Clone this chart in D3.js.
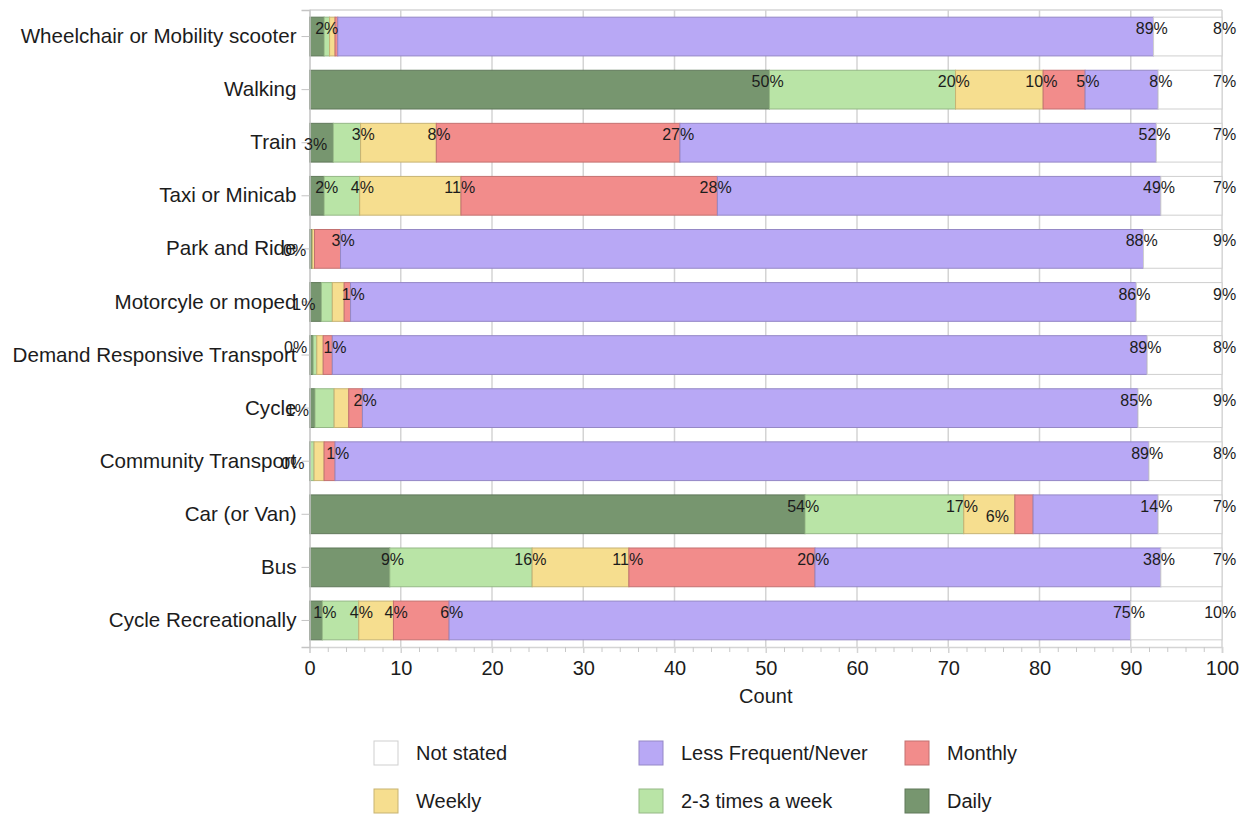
<!DOCTYPE html>
<html>
<head>
<meta charset="utf-8">
<script src="https://cdn.jsdelivr.net/npm/d3@7"></script>
<style>
  body { margin: 0; background: #fff; }
  svg { font-family: "Liberation Sans", Arial, sans-serif; }
</style>
</head>
<body>
<svg id="chart" width="1249" height="814"></svg>
<script>
// categories, top to bottom
const categories = [
    "Wheelchair or Mobility scooter", "Walking", "Train", "Taxi or Minicab",
    "Park and Ride", "Motorcyle or moped", "Demand Responsive Transport", "Cycle",
    "Community Transport", "Car (or Van)", "Bus", "Cycle Recreationally"
];

// percentages per series, same order as categories
const daily        = [1.6, 50.4, 2.6, 1.6, 0.3, 1.3, 0.4, 0.6, 0.1, 54.3, 8.8, 1.4];
const twoThree     = [0.6, 20.4, 3.0, 3.9, 0.0, 1.2, 0.4, 2.1, 0.4, 17.4, 15.6, 4.0];
const weekly       = [0.6, 9.6, 8.3, 11.1, 0.25, 1.3, 0.7, 1.6, 1.1, 5.6, 10.6, 3.8];
const monthly      = [0.3, 4.6, 26.7, 28.1, 2.85, 0.7, 1.0, 1.5, 1.2, 2.0, 20.4, 6.1];
const lessFrequent = [89.4, 8.0, 52.2, 48.6, 88.0, 86.1, 89.3, 85.0, 89.2, 13.7, 37.9, 74.7];
const notStated    = [7.5, 7.0, 7.2, 6.7, 8.6, 9.4, 8.2, 9.2, 8.0, 7.0, 6.7, 10.0];

// label placement per segment (Daily..Not stated): t = top, l = lowered, e = shifted left, - = none
const labelModes = [
    "t---tt", "tttttt", "lttttt", "tttttt", "l--ttt", "l--ttt",
    "e--ttt", "l--ttt", "l--ttt", "ttl-tt", "tttttt", "tttttt"
];

const seriesNames = ["Daily", "2-3 times a week", "Weekly", "Monthly", "Less Frequent/Never", "Not stated"];
const seriesColors = ["#77966f", "#b9e4a6", "#f6de8f", "#f28c8b", "#b8a8f5", "#ffffff"];
const xTicks = [0, 10, 20, 30, 40, 50, 60, 70, 80, 90, 100];

const seriesValues = [daily, twoThree, weekly, monthly, lessFrequent, notStated];
const table = categories.map((c, i) => {
    const row = { category: c, index: i };
    seriesNames.forEach((s, j) => row[s] = seriesValues[j][i]);
    return row;
});

const svg = d3.select("#chart");
const x = d3.scaleLinear().domain([0, 100]).range([309.5, 1222]);
const y = d3.scaleBand().domain(categories).range([10, 647])
    .paddingInner(0.27).paddingOuter(0.135);
const color = d3.scaleOrdinal().domain(seriesNames).range(seriesColors);

const gridColor = "#d4d4d4";
const textColor = "#1c1c1c";

// gridlines and frame
svg.append("g").selectAll("line")
    .data(xTicks.slice(1))
    .join("line")
    .attr("x1", d => x(d)).attr("x2", d => x(d))
    .attr("y1", 10).attr("y2", 647)
    .attr("stroke", gridColor).attr("stroke-width", 1.5);
svg.append("line")
    .attr("x1", x(0)).attr("x2", x(100)).attr("y1", 10).attr("y2", 10)
    .attr("stroke", gridColor).attr("stroke-width", 1.5);

// stacked bars
const stacked = d3.stack().keys(seriesNames)(table);

const layers = svg.append("g").selectAll("g")
    .data(stacked)
    .join("g")
    .attr("fill", d => color(d.key))
    .attr("stroke", d => d.key === "Not stated" ? "#cfcfcf" : d3.color(color(d.key)).darker(0.6))
    .attr("stroke-width", 1);

layers.selectAll("rect")
    .data(d => d)
    .join("rect")
    .attr("x", d => x(d[0]))
    .attr("y", d => y(d.data.category))
    .attr("width", d => Math.max(0, x(d[1]) - x(d[0])))
    .attr("height", y.bandwidth());

// axes
const xAxis = svg.append("g")
    .attr("transform", "translate(0,647)")
    .call(d3.axisBottom(x).tickValues(xTicks).tickSize(6).tickPadding(8));
xAxis.select(".domain").attr("stroke", gridColor).attr("stroke-width", 1.5);
xAxis.selectAll(".tick line").attr("stroke", gridColor).attr("stroke-width", 1.5);
xAxis.selectAll(".tick text")
    .attr("font-size", 20).attr("fill", textColor)
    .attr("font-family", "Liberation Sans, Arial, sans-serif");

const minor = svg.append("g")
    .attr("transform", "translate(0,647)")
    .call(d3.axisBottom(x)
        .tickValues(d3.range(0, 101, 2).filter(v => v % 10 !== 0))
        .tickSize(5).tickFormat(""));
minor.select(".domain").remove();
minor.selectAll(".tick line").attr("stroke", "#c8c8c8");

const yAxis = svg.append("g")
    .attr("transform", `translate(${x(0)},0)`)
    .call(d3.axisLeft(y).tickSize(8).tickPadding(5));
yAxis.select(".domain").attr("stroke", "#c4c4c4").attr("stroke-width", 1.5);
yAxis.selectAll(".tick line").attr("stroke", "#c4c4c4");
yAxis.selectAll(".tick text")
    .attr("font-size", 20.6).attr("fill", textColor)
    .attr("font-family", "Liberation Sans, Arial, sans-serif");

svg.append("text")
    .attr("x", (x(0) + x(100)) / 2).attr("y", 703)
    .attr("text-anchor", "middle")
    .attr("font-size", 20).attr("fill", textColor)
    .text("Count");

// segment labels
const labels = [];
stacked.forEach((layer, j) => {
    layer.forEach(d => {
        const mode = labelModes[d.data.index][j];
        if (mode === "-") return;
        labels.push({ mode, end: d[1], top: y(d.data.category), value: Math.round(d.data[layer.key]) });
    });
});

const labelG = svg.append("g")
    .attr("font-size", 16).attr("fill", textColor);

labels.forEach(l => {
    if (l.mode === "t") {
        labelG.append("text")
            .attr("x", x(l.end)).attr("y", l.top + 17)
            .attr("text-anchor", "end").text(l.value);
        labelG.append("text")
            .attr("x", x(l.end)).attr("y", l.top + 17)
            .text("%");
    } else {
        labelG.append("text")
            .attr("x", x(l.end) - 6)
            .attr("y", l.top + (l.mode === "l" ? 27 : 17))
            .attr("text-anchor", "end").text(l.value + "%");
    }
});

// legend: reverse order, three columns
const legendOrder = seriesNames.slice().reverse();
const legend = svg.append("g").selectAll("g")
    .data(legendOrder)
    .join("g")
    .attr("transform", (d, i) => `translate(${[374, 639, 905][i % 3]},${[741, 789][Math.floor(i / 3)]})`);

legend.append("rect")
    .attr("width", 24).attr("height", 24)
    .attr("fill", d => color(d))
    .attr("stroke", d => d === "Not stated" ? "#cfcfcf" : d3.color(color(d)).darker(0.6));

legend.append("text")
    .attr("x", 42).attr("y", 12).attr("dy", "0.35em")
    .attr("font-size", 20).attr("fill", textColor)
    .text(d => d);
</script>
</body>
</html>
